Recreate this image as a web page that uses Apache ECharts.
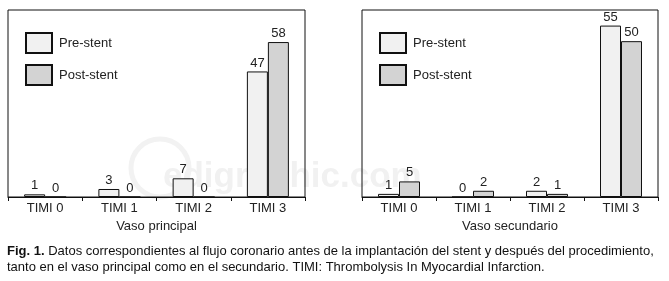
<!DOCTYPE html>
<html>
<head>
<meta charset="utf-8">
<script src="https://cdn.jsdelivr.net/npm/echarts@6/dist/echarts.min.js"></script>
<style>
html,body{margin:0;padding:0;background:#fff;}
#c{width:669px;height:281px;}
</style>
</head>
<body>
<div id="c"></div>
<script>
var categories = ['TIMI 0', 'TIMI 1', 'TIMI 2', 'TIMI 3'];
var principalPre = [1, 3, 7, 47];
var principalPost = [0, 0, 0, 58];
var secundarioPre = [1, 0, 2, 55];
var secundarioPost = [5, 2, 1, 50];
var seriesNames = ['Pre-stent', 'Post-stent'];
var axisNames = ['Vaso principal', 'Vaso secundario'];
var captionBold = 'Fig. 1.';
var captionLine1 = ' Datos correspondientes al flujo coronario antes de la implantación del stent y después del procedimiento,';
var captionLine2 = 'tanto en el vaso principal como en el secundario. TIMI: Thrombolysis In Myocardial Infarction.';

var FONT = '"Liberation Sans", Arial, sans-serif';
var preColor = '#f1f1f1';
var postColor = '#d3d3d3';

function bar(name, data, idx, color) {
  return {
    name: name, type: 'bar', data: data,
    xAxisIndex: idx, yAxisIndex: idx,
    barWidth: 21, barGap: '0%',
    itemStyle: {color: color, borderColor: '#111', borderWidth: 1},
    label: {show: true, position: 'top', distance: 2, fontFamily: FONT, fontSize: 13, color: '#222'},
    animation: false
  };
}
function xAx(idx, name) {
  return {
    type: 'category', gridIndex: idx, data: categories,
    axisLine: {lineStyle: {color: '#111', width: 1}},
    axisTick: {show: true, length: 4, lineStyle: {color: '#111'}},
    axisLabel: {fontFamily: FONT, fontSize: 13, color: '#222', margin: 5},
    name: name, nameLocation: 'middle', nameGap: 20,
    nameTextStyle: {fontFamily: FONT, fontSize: 13, color: '#222'}
  };
}
function yAx(idx, max) {
  return {type: 'value', gridIndex: idx, min: 0, max: max, show: false, splitLine: {show: false}};
}
function leg(left) {
  return {
    data: seriesNames, orient: 'vertical', left: left, top: 32, padding: 0,
    itemWidth: 26, itemHeight: 20, itemGap: 10, icon: 'rect',
    textStyle: {fontFamily: FONT, fontSize: 13, color: '#222', padding: [0, 0, 0, 2]},
    selectedMode: false
  };
}

var chart = echarts.init(document.getElementById('c'), null, {renderer: 'canvas'});
chart.setOption({
  backgroundColor: '#fff',
  animation: false,
  grid: [
    {left: 8, right: 364, top: 10, bottom: 84, show: true, borderColor: '#111', borderWidth: 1, backgroundColor: 'transparent'},
    {left: 362, right: 11, top: 10, bottom: 84, show: true, borderColor: '#111', borderWidth: 1, backgroundColor: 'transparent'}
  ],
  legend: [leg(25), leg(379)],
  xAxis: [xAx(0, axisNames[0]), xAx(1, axisNames[1])],
  yAxis: [yAx(0, 70), yAx(1, 60)],
  series: [
    bar(seriesNames[0], principalPre, 0, preColor),
    bar(seriesNames[1], principalPost, 0, postColor),
    bar(seriesNames[0], secundarioPre, 1, preColor),
    bar(seriesNames[1], secundarioPost, 1, postColor)
  ],
  graphic: [
    {type: 'circle', shape: {cx: 160, cy: 168, r: 29}, style: {fill: 'none', stroke: '#f2f2f2', lineWidth: 5}, z: -10, silent: true},
    {type: 'text', left: 163, top: 160, z: -10, silent: true,
     style: {text: 'edigraphic.com', font: 'bold 35px "Liberation Sans", Arial, sans-serif', fill: '#f1f1f1'}},
    {type: 'text', left: 7, top: 245, silent: true,
     style: {text: '{b|' + captionBold + '}{n|' + captionLine1 + '}',
       rich: {b: {fontFamily: FONT, fontSize: 13, fontWeight: 'bold', fill: '#111'},
              n: {fontFamily: FONT, fontSize: 13, fill: '#111'}}}},
    {type: 'text', left: 7, top: 261, silent: true,
     style: {text: captionLine2, font: '13px "Liberation Sans", Arial, sans-serif', fill: '#111'}}
  ]
});
</script>
</body>
</html>
